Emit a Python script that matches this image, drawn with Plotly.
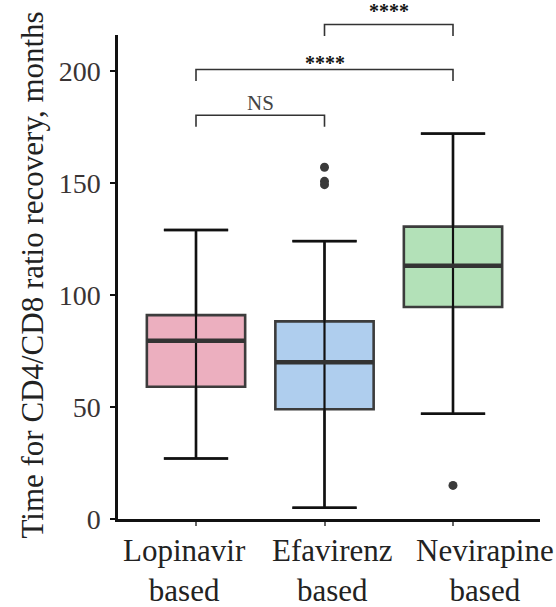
import plotly.graph_objects as go

# ---------------- data ----------------
categories = ["Lopinavir<br>based", "Efavirenz<br>based", "Nevirapine<br>based"]
lower_whisker = [27, 5, 47]
q1 = [59, 49, 94.6]
median = [79.6, 70, 113]
q3 = [91, 88.2, 130.5]
upper_whisker = [129, 124, 172]
outliers = [[], [157, 150.7, 149.2], [15]]
fill_colors = ["#ECAFBF", "#AFCEEE", "#B3E1B8"]

y_ticks = [0, 50, 100, 150, 200]
comparisons = [(0, 1, "NS"), (0, 2, "****"), (1, 2, "****")]
bracket_levels = [180.2, 200.6, 220.7]
label_levels = [185.6, 205.4, 228.4]

# ---------------- layout constants ----------------
X_MIN, X_MAX = -0.607, 2.677
Y_MIN, Y_MAX = 0, 216
BOX_W = 0.765
CAP_HALF = 0.25
LEG = 5.1
SERIF = "Liberation Serif, Times New Roman, serif"


def xp(v):
    return (v - X_MIN) / (X_MAX - X_MIN)


def yp(v):
    return (v - Y_MIN) / (Y_MAX - Y_MIN)


fig = go.Figure()
xs = list(range(len(categories)))

for i in xs:
    fig.add_trace(go.Box(
        x=[i], q1=[q1[i]], median=[median[i]], q3=[q3[i]],
        lowerfence=[lower_whisker[i]], upperfence=[upper_whisker[i]],
        width=BOX_W, whiskerwidth=2 * CAP_HALF / BOX_W,
        fillcolor=fill_colors[i], line=dict(color="#3c3c3c", width=2.6),
        boxpoints=False, hoverinfo="skip", showlegend=False,
    ))
    # whisker line running through the box
    fig.add_trace(go.Scatter(
        x=[i, i], y=[lower_whisker[i], upper_whisker[i]], mode="lines",
        line=dict(color="#111111", width=2.2), hoverinfo="skip", showlegend=False,
    ))
    # caps
    for w in (lower_whisker[i], upper_whisker[i]):
        fig.add_trace(go.Scatter(
            x=[i - CAP_HALF, i + CAP_HALF], y=[w, w], mode="lines",
            line=dict(color="#111111", width=2.4), hoverinfo="skip", showlegend=False,
        ))
    # thick median
    fig.add_trace(go.Scatter(
        x=[i - BOX_W / 2, i + BOX_W / 2], y=[median[i], median[i]], mode="lines",
        line=dict(color="#333333", width=4.5), hoverinfo="skip", showlegend=False,
    ))
    if outliers[i]:
        fig.add_trace(go.Scatter(
            x=[i] * len(outliers[i]), y=outliers[i], mode="markers",
            marker=dict(color="#3a3a3a", size=9), hoverinfo="skip", showlegend=False,
        ))

shapes = []
annotations = []
for (a, b, lab), lev, llev in zip(comparisons, bracket_levels, label_levels):
    path = "M {x0},{y0} L {x0},{y1} L {x1},{y1} L {x1},{y0}".format(
        x0=xp(a), x1=xp(b), y0=yp(lev - LEG), y1=yp(lev))
    shapes.append(dict(type="path", xref="paper", yref="paper", path=path,
                       line=dict(color="#333333", width=1.6)))
    is_star = lab.startswith("*")
    annotations.append(dict(
        x=xp((a + b) / 2), y=yp(llev), xref="paper", yref="paper",
        text="<b>%s</b>" % lab if is_star else lab, showarrow=False,
        xanchor="center", yanchor="middle", yshift=-4 if is_star else 0,
        font=dict(family=SERIF, size=20 if is_star else 21,
                  color="#151515" if is_star else "#444444"),
    ))

# category labels
label_shift = [-12, 7, 32]
for i in xs:
    annotations.append(dict(
        x=xp(i), y=0, xref="paper", yref="paper", text=categories[i],
        showarrow=False, xanchor="center", yanchor="top", yshift=-12,
        xshift=label_shift[i],
        font=dict(family=SERIF, size=31, color="#222222"),
    ))

# axis title
annotations.append(dict(
    x=(33 - 118) / 422, y=0.503, xref="paper", yref="paper",
    text="Time for CD4/CD8 ratio recovery, months", textangle=-90,
    showarrow=False, xanchor="center", yanchor="middle",
    font=dict(family=SERIF, size=31, color="#222222"),
))

fig.update_layout(
    width=556, height=607,
    margin=dict(l=118, r=16, t=35, b=88),
    plot_bgcolor="white", paper_bgcolor="white",
    showlegend=False,
    shapes=shapes, annotations=annotations,
    xaxis=dict(range=[X_MIN, X_MAX], tickvals=xs, ticktext=[""] * len(xs),
               showgrid=False, zeroline=False, showline=True,
               linecolor="#111111", linewidth=2.5,
               ticks="outside", ticklen=4, tickwidth=1.5, tickcolor="#666666"),
    yaxis=dict(range=[Y_MIN, Y_MAX], tickvals=y_ticks,
               showgrid=False, zeroline=False, showline=True,
               linecolor="#111111", linewidth=2.5,
               ticks="outside", ticklen=5, tickwidth=2, tickcolor="#111111",
               tickfont=dict(family=SERIF, size=28, color="#3a3434"),
               ticklabelstandoff=4),
)

fig.write_html("out.html",
               config={"displayModeBar": False},
               post_script="document.body.style.margin='0';"
                           "document.body.style.overflow='hidden';")
